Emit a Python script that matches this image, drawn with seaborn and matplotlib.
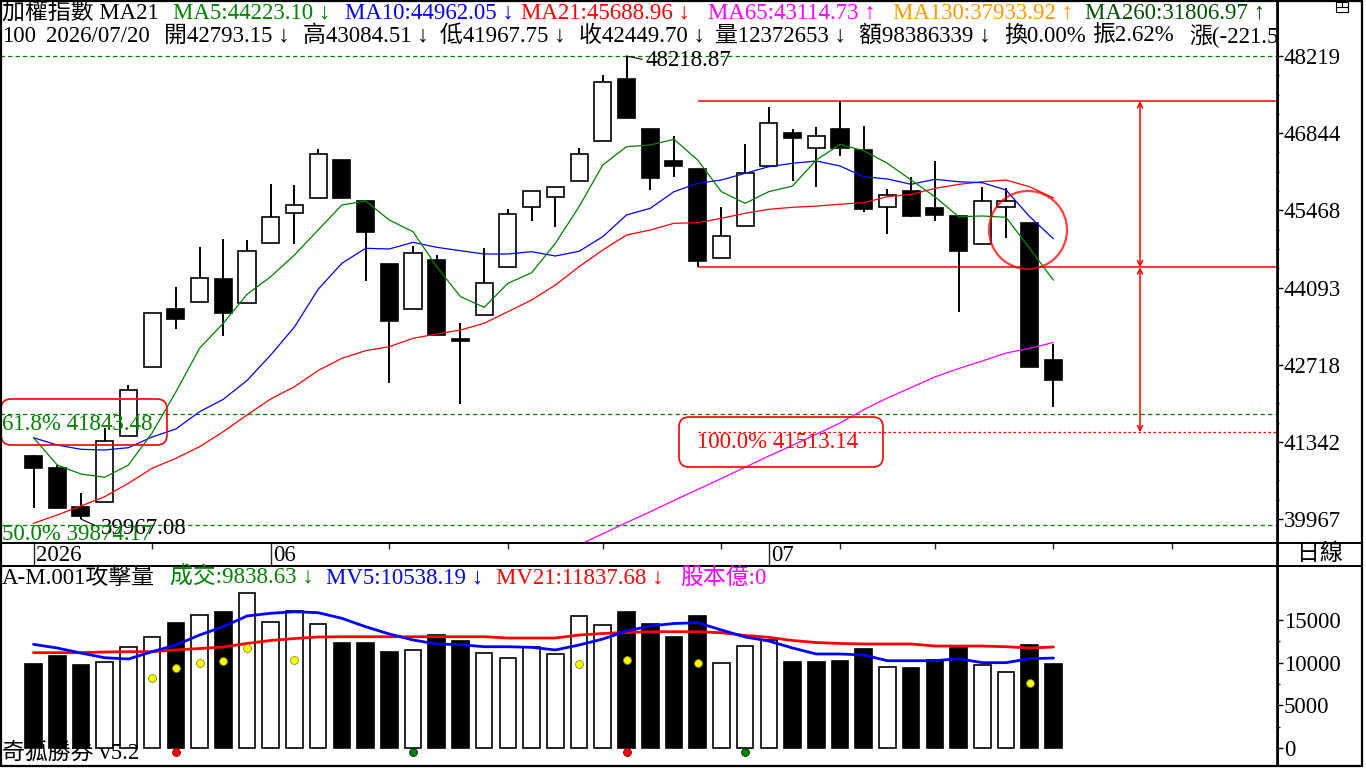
import matplotlib
matplotlib.use("Agg")
import matplotlib.pyplot as plt
from matplotlib.patches import FancyBboxPatch, Ellipse, Rectangle
import numpy as np
import pandas as pd
import seaborn as sns

sns.set_theme(style="white")
plt.rcParams["font.family"] = ["Liberation Serif", "Noto Sans CJK TC", "DejaVu Sans"]
plt.rcParams["axes.unicode_minus"] = False

W, H = 1366, 768
FS = 16.5
GREEN, BLUE, RED, MAG, ORANGE, DKGREEN = "#008000", "#0000FF", "#FF0000", "#FF00FF", "#FF9900", "#004D00"

# ---- daily candles (index 0 = first bar of 2026 window) ----
opens = [41091, 40877, 40177, 40266, 41453, 42672, 43705, 43841, 44245, 43823,
         44881, 45416, 45683, 46366, 45635, 44507, 43705, 44578, 43175, 43598,
         44454, 45523, 45701, 45986, 46699, 47809, 46918, 46348, 46205, 44614,
         45184, 46254, 46852, 46571, 46915, 46544, 45534, 45813, 45516, 45368,
         44864, 45523, 45238, 42793.15]
highs = [41100, 40931, 40426, 41585, 42356, 43634, 44097, 44810, 44953, 44935,
         45938, 45920, 46562, 46366, 45635, 44507, 44833, 44667, 43466, 44792,
         45492, 45808, 45885, 46585, 47880, 48218.87, 46918, 46793, 46205, 45534,
         46651, 47310, 46918, 46959, 47417, 46972, 45849, 46068, 46348, 45368,
         45879, 45861, 45238, 43084.51]
lows = [40164, 40159, 39967.08, 40266, 41440, 42672, 43354, 43841, 43235, 43823,
        44881, 44874, 45683, 45694, 44215, 42386, 43705, 43242, 42012, 43598,
        44454, 45284, 45177, 45986, 46699, 47120, 45831, 46068, 44454, 44614,
        45184, 46254, 45992, 45890, 46437, 45444, 45047, 45355, 45284, 43662,
        44864, 44981, 42671.2, 41967.75]
closes = [40883, 40170, 40022, 41358, 42267, 43634, 43538, 44258, 43645, 44739,
          45345, 45558, 46467, 45694, 45088, 43502, 44703, 43242, 43145, 44168,
          45398, 45808, 45885, 46467, 47750, 47120, 46050, 46264, 44571, 45011,
          46134, 47025, 46763, 46793, 46571, 45498, 45742, 45368, 45391, 44749,
          45630, 45630, 42671.2, 42449.70]

ma5 = [41417, 40931, 40770, 40711, 40931, 41501, 42231, 43010, 43456, 43972,
       44286, 44673, 45118, 45564, 45635, 45296, 45088, 44464, 43930, 43741,
       44168, 44357, 44881, 45534, 46277, 46603, 46633, 46735, 46366, 45801,
       45594, 45801, 45902, 46366, 46642, 46531, 46307, 46009, 45712, 45355,
       45368, 45345, 44790, 44223.10]
ma10 = [41417, 41287, 41210, 41198, 41239, 41430, 41572, 41880, 42101, 42436,
        42891, 43390, 44062, 44525, 44792, 44780, 44899, 44810, 44749, 44691,
        44691, 44732, 44655, 44739, 44999, 45386, 45505, 45801, 45950, 46009,
        46129, 46246, 46307, 46348, 46259, 46068, 46027, 45933, 46022, 45979,
        45961, 45831, 45355, 44962.05]
ma21 = [39892, 40040, 40200, 40366, 40604, 40872, 41050, 41257, 41524, 41822,
        42107, 42326, 42615, 42832, 42967, 43039, 43188, 43265, 43336, 43456,
        43662, 43871, 44138, 44464, 44762, 45029, 45118, 45238, 45248, 45327,
        45416, 45487, 45523, 45544, 45578, 45605, 45712, 45752, 45859, 45931,
        45979, 46009, 45888, 45688.96]
ma65 = [np.nan] * 23 + [39505, 39706, 39904, 40098, 40298, 40494, 40690, 40890,
                        41091, 41282, 41478, 41679, 41916, 42125, 42312, 42499,
                        42649, 42784, 42926, 43010, 43114.73]

# ---- attack volume panel ----
volume = [9845, 10780, 9730, 10040, 11800, 12970, 14650, 15590, 15940, 18130,
          14770, 16090, 14500, 12310, 12310, 11250, 11450, 13210, 12540, 11100,
          10510, 11870, 10980, 15430, 14380, 15940, 14530, 13010, 15470, 9925,
          11920, 12700, 10080, 10040, 10200, 11600, 9450, 9375, 10310, 11720,
          9690, 8870, 12030, 9838.63]
vol_up = [0, 0, 0, 1, 1, 1, 0, 1, 0, 1, 1, 1, 1, 0, 0, 0, 1, 0, 0, 1,
          1, 1, 1, 1, 1, 0, 0, 0, 0, 1, 1, 1, 0, 0, 0, 0, 1, 0, 0, 0,
          1, 1, 0, 0]
mv5 = [12150, 11720, 11130, 10580, 10430, 11290, 12070, 13240, 14220, 15470,
       15790, 15970, 15860, 15200, 14220, 13360, 12660, 12190, 12110, 11870,
       11870, 11800, 11490, 12070, 12770, 13710, 14300, 14590, 14690, 13830,
       13010, 12540, 11720, 11020, 11020, 10900, 10230, 10230, 10230, 10470,
       10000, 10000, 10470, 10538.19]
mv21 = [11170, 11170, 11170, 11250, 11290, 11290, 11490, 11660, 11840, 12250,
        12600, 12830, 13010, 13040, 13040, 13040, 13040, 13040, 13040, 13040,
        12890, 12890, 12890, 13240, 13420, 13540, 13630, 13630, 13630, 13510,
        13190, 12970, 12600, 12360, 12250, 12190, 12190, 12190, 11950, 11950,
        11950, 11870, 11720, 11837.68]
dot_idx = [5, 6, 7, 8, 9, 11, 23, 25, 28, 42]
dot_val = [8200, 9410, 10000, 10230, 11760, 10350, 9840, 10310, 10000, 7620]
buy_idx = [6, 25]
sell_idx = [16, 30]
signal_level = -470

# ---- drawing levels ----
fib_levels = [48218.87, 41843.48, 39861]
box_top, box_bottom, target = 47417, 44454, 41513.14
month_idx, month_labels = [0, 10, 31], ["2026", "06", "07"]
minor_idx = [5, 15, 20, 24, 29, 34, 38, 43, 48]
price_ticks = [48219, 46844, 45468, 44093, 42718, 41342, 39967]
vol_ticks = [0, 5000, 10000, 15000]

idx = np.arange(len(closes))
df = pd.DataFrame({"i": idx, "open": opens, "high": highs, "low": lows, "close": closes,
                   "ma5": ma5, "ma10": ma10, "ma21": ma21, "ma65": ma65,
                   "vol": volume, "mv5": mv5, "mv21": mv21})

fig = plt.figure(figsize=(W / 100, H / 100), dpi=100)
fig.patch.set_facecolor("white")


def px_axes(x0, y0, x1, y1):
    a = fig.add_axes([x0 / W, 1 - y1 / H, (x1 - x0) / W, (y1 - y0) / H])
    a.set_facecolor("white")
    for s in a.spines.values():
        s.set_color("black")
        s.set_linewidth(1.2)
    return a


X0, DX = 33.5, 23.72
XLIM = ((0 - X0) / DX, (1277 - X0) / DX)


def price_at(y):
    return 48219 - 17.82 * (y - 56)


def vol_at(y):
    return (748 - y) * 117.2


# ---------------- price panel ----------------
ax = px_axes(0, 0, 1277, 543)

up = df["close"] > df["open"]
body_lo = df[["open", "close"]].min(axis=1)
body_h = (df["close"] - df["open"]).abs().clip(lower=28)
ax.vlines(df["i"], df["low"], df["high"], color="black", lw=1.4, zorder=2)
ax.bar(df["i"], body_h, bottom=body_lo, width=0.72,
       color=np.where(up, "white", "black"), edgecolor="black", lw=1.2, zorder=3)

for col, colr in [("ma65", MAG), ("ma21", RED), ("ma10", BLUE), ("ma5", GREEN)]:
    sns.lineplot(data=df, x="i", y=col, ax=ax, color=colr, lw=0.9, zorder=4, legend=False)

for lv in fib_levels:
    ax.axhline(lv, color=GREEN, lw=0.9, ls=(0, (3.5, 2.5)), zorder=1)
ax.hlines([box_top, box_bottom], 28, XLIM[1], color=RED, lw=1.1, zorder=1)
ax.hlines(target, 28, XLIM[1], color=RED, lw=0.9, ls=(0, (2, 2)), zorder=1)
arrow_x = (1140 - X0) / DX
for a, b in [(box_top, box_bottom), (box_bottom, target)]:
    ax.annotate("", xy=(arrow_x, a), xytext=(arrow_x, b),
                arrowprops=dict(arrowstyle="<->", color=RED, lw=1.1, mutation_scale=9,
                                shrinkA=0, shrinkB=0))
ax.add_patch(Ellipse(((1028 - X0) / DX, price_at(230)), 78 / DX, 78 * 17.82,
                     fill=False, edgecolor=(1, 0, 0, 0.75), lw=1.6, zorder=6))

ax.yaxis.tick_right()
ax.set_yticks(price_ticks)
ax.set_yticklabels([str(t) for t in price_ticks])
step = (price_ticks[0] - price_ticks[-1]) / 6
ax.set_yticks([price_ticks[0] - step * k / 4 for k in range(1, 25) if k % 4], minor=True)
ax.tick_params(axis="y", which="major", direction="out", length=4, width=1, pad=1,
               labelsize=FS, colors="black", right=True, left=False)
ax.tick_params(axis="y", which="minor", direction="out", length=1.5, width=1, right=True)
ax.set_xticks([])
ax.set_xlabel("")
ax.set_ylabel("")
ax.set_xlim(*XLIM)
ax.set_ylim(price_at(543), price_at(0))

ax.annotate("48218.87", xy=(25, 48218.87), xytext=(19, -4), textcoords="offset pixels",
            ha="left", va="center", fontsize=FS, color="black",
            arrowprops=dict(arrowstyle="-", color="black", lw=0.8, shrinkA=0, shrinkB=0,
                            relpos=(0, 0.5)))
ax.annotate("39967.08", xy=(2, 39967.08), xytext=(20, -9), textcoords="offset pixels",
            ha="left", va="center", fontsize=FS, color="black", zorder=7,
            arrowprops=dict(arrowstyle="-", color="black", lw=0.8, shrinkA=0, shrinkB=0,
                            relpos=(0, 0.5)))

# ---------------- date strip ----------------
dax = px_axes(0, 543, 1277, 566)
dax.set_yticks([])
dax.xaxis.tick_top()
dax.set_xticks(month_idx)
dax.set_xticklabels([])
dax.set_xticks(minor_idx, minor=True)
dax.tick_params(axis="x", which="major", direction="in", length=17, width=1, top=True, bottom=False)
dax.tick_params(axis="x", which="minor", direction="in", length=4, width=1, top=True, bottom=False)
dax.set_xlim(*XLIM)
dax.set_ylim(0, 1)
for i, lab in zip(month_idx, month_labels):
    dax.text(i + 0.1, 0.45, lab, ha="left", va="center", fontsize=FS, color="black")

# ---------------- volume panel ----------------
vax = px_axes(0, 566, 1277, 766)
vax.bar(df["i"], df["vol"], width=0.70, color=np.where(np.array(vol_up) == 1, "white", "black"),
        edgecolor="black", lw=1.2, zorder=2)
sns.lineplot(data=df, x="i", y="mv21", ax=vax, color=RED, lw=2.0, zorder=3, legend=False)
sns.lineplot(data=df, x="i", y="mv5", ax=vax, color=BLUE, lw=2.0, zorder=4, legend=False)
vax.scatter(dot_idx, dot_val, s=32, color="#FFFF00", edgecolor="#8a8a00", lw=0.6, zorder=5)
vax.scatter(buy_idx, [signal_level] * len(buy_idx), s=32, color=RED, edgecolor="#800000", lw=0.6,
            zorder=5, clip_on=False)
vax.scatter(sell_idx, [signal_level] * len(sell_idx), s=32, color=GREEN, edgecolor="#003000", lw=0.6,
            zorder=5, clip_on=False)
vax.yaxis.tick_right()
vax.set_yticks(vol_ticks)
vax.set_yticklabels([str(t) for t in vol_ticks])
vax.set_yticks([2500, 7500, 12500], minor=True)
vax.tick_params(axis="y", which="major", direction="out", length=4, width=1, pad=1,
                labelsize=FS, colors="black", right=True, left=False)
vax.tick_params(axis="y", which="minor", direction="out", length=2, width=1, right=True)
vax.set_xticks([])
vax.set_xlabel("")
vax.set_ylabel("")
vax.set_xlim(*XLIM)
vax.set_ylim(vol_at(766), vol_at(566))

# ---------------- overlay: headers, frames, boxes ----------------
ov = fig.add_axes([0, 0, 1, 1], zorder=10)
ov.set_xlim(0, W)
ov.set_ylim(H, 0)
ov.axis("off")
ov.patch.set_alpha(0)

row1 = [(2, "加權指數 MA21", "black"), (173, "MA5:44223.10 ↓", GREEN),
        (345, "MA10:44962.05 ↓", BLUE), (521, "MA21:45688.96 ↓", RED),
        (708, "MA65:43114.73 ↑", MAG), (893, "MA130:37933.92 ↑", ORANGE),
        (1085, "MA260:31806.97 ↑", DKGREEN)]
for x, s, c in row1:
    ov.text(x, 13, s, ha="left", va="center", fontsize=FS, color=c)

row2 = [(2, "100"), (46, "2026/07/20"), (164, "開42793.15 ↓"), (303, "高43084.51 ↓"),
        (440, "低41967.75 ↓"), (579, "收42449.70 ↓"), (715, "量12372653 ↓"),
        (859, "額98386339 ↓"), (1004, "換0.00%"), (1092, "振2.62%"), (1189, "漲(-221.55)")]
for x, s in row2:
    t = ov.text(x, 36, s, ha="left", va="center", fontsize=FS, color="black")
    t.set_clip_box(ax.bbox)
    t.set_clip_on(True)

ov.text(2, 425, "61.8% 41843.48", ha="left", va="center", fontsize=FS, color=GREEN)
t = ov.text(2, 534, "50.0% 39874.17", ha="left", va="center", fontsize=FS, color=GREEN, zorder=1)
t.set_clip_box(ax.bbox)
t.set_clip_on(True)
ov.add_patch(FancyBboxPatch((1, 399), 166, 46, boxstyle="round,pad=0,rounding_size=10",
                            fill=False, ec=RED, lw=1.2))
ov.add_patch(FancyBboxPatch((679, 417), 204, 50, boxstyle="round,pad=0,rounding_size=10",
                            fill=False, ec=RED, lw=1.2))
ov.text(697, 443, "100.0% 41513.14", ha="left", va="center", fontsize=FS, color=RED)

vrow = [(2, "A-M.001攻擊量", "black"), (170, "成交:9838.63 ↓", GREEN),
        (326, "MV5:10538.19 ↓", BLUE), (496, "MV21:11837.68 ↓", RED), (680, "股本億:0", MAG)]
for x, s, c in vrow:
    ov.text(x, 578, s, ha="left", va="center", fontsize=FS, color=c)
ov.text(2, 753, "奇狐勝券 v5.2", ha="left", va="center", fontsize=FS, color="black")

ov.hlines([543, 566], 0, 1362, color="black", lw=1.4)
ov.vlines(1277.5, 0, 766, color="black", lw=1.4)
ov.add_patch(Rectangle((0.8, 0.5), 1361.5, 765.5, fill=False, ec="black", lw=1.6))
ov.text(1320, 554, "日線", ha="center", va="center", fontsize=FS, color="black")
ov.add_patch(Rectangle((1336, 2), 12, 10, fill=False, ec="black", lw=0.8))
ov.hlines(7, 1336, 1348, color="black", lw=0.8)
ov.vlines(1342, 2, 7, color="black", lw=0.8)

fig.savefig("out.png", dpi=100)
plt.close(fig)
